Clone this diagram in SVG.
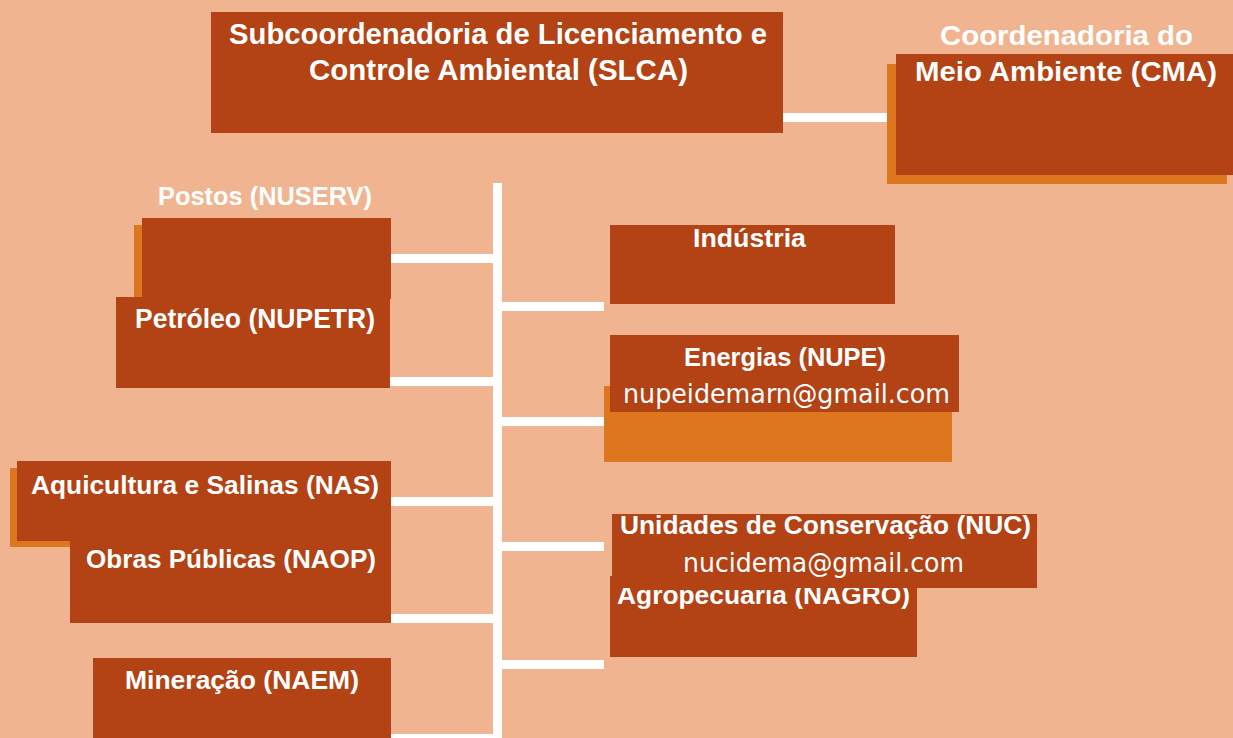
<svg xmlns="http://www.w3.org/2000/svg" width="1233" height="738" viewBox="0 0 1233 738">
<defs>
<style>
.bg{fill:#F0B590}
.box{fill:#B34214}
.sh{fill:#DC771E}
.conn{stroke:#FFFFFF;stroke-width:9;fill:none}
.t{font-family:"Liberation Sans",Arial,sans-serif;font-weight:bold;fill:#FFFFFF;text-anchor:middle}
.m{font-family:"DejaVu Sans","Verdana",sans-serif;fill:#FFFFFF;text-anchor:middle}
</style>
</defs>
<rect class="bg" x="0" y="0" width="1233" height="738"/>
<g id="connectors">
<path class="conn" d="M497.5 183V738"/>
<path class="conn" d="M783 117.5H888"/>
<path class="conn" d="M390 258.5H494"/>
<path class="conn" d="M389 381.5H494"/>
<path class="conn" d="M390 501.5H494"/>
<path class="conn" d="M390 618.5H494"/>
<path class="conn" d="M390 738.5H494"/>
<path class="conn" d="M501 306.5H604"/>
<path class="conn" d="M501 421.5H604"/>
<path class="conn" d="M501 546.5H604"/>
<path class="conn" d="M501 664.5H604"/>
</g>
<g id="slca">
<rect class="box" x="211" y="12" width="572" height="121"/>
<text class="t" font-size="29" x="498" y="44" textLength="538" lengthAdjust="spacingAndGlyphs">Subcoordenadoria de Licenciamento e</text>
<text class="t" font-size="29" x="498.5" y="80" textLength="379" lengthAdjust="spacingAndGlyphs">Controle Ambiental (SLCA)</text>
</g>
<g id="cma">
<rect class="sh" x="887" y="64" width="340" height="120"/>
<rect class="box" x="896" y="54" width="337" height="121"/>
<text class="t" font-size="28" x="1066.5" y="45" textLength="253" lengthAdjust="spacingAndGlyphs">Coordenadoria do</text>
<text class="t" font-size="28" x="1066" y="81" textLength="302" lengthAdjust="spacingAndGlyphs">Meio Ambiente (CMA)</text>
</g>
<g id="nuserv">
<rect class="sh" x="134" y="225" width="250" height="80"/>
<rect class="box" x="142" y="218" width="249" height="81"/>
<text class="t" font-size="26" x="265" y="205" textLength="214" lengthAdjust="spacingAndGlyphs">Postos (NUSERV)</text>
</g>
<g id="nupetr">
<rect class="box" x="116" y="297" width="274" height="91"/>
<text class="t" font-size="27" x="255" y="328" textLength="240" lengthAdjust="spacingAndGlyphs">Petróleo (NUPETR)</text>
</g>
<g id="industria">
<rect class="box" x="610" y="225" width="285" height="79"/>
<text class="t" font-size="26" x="749.5" y="247" textLength="113" lengthAdjust="spacingAndGlyphs">Indústria</text>
</g>
<g id="nupe">
<rect class="sh" x="604" y="386" width="348" height="76"/>
<rect class="box" x="610" y="335" width="349" height="77"/>
<text class="t" font-size="25" x="785" y="366" textLength="202" lengthAdjust="spacingAndGlyphs">Energias (NUPE)</text>
<text class="m" font-size="27" x="786.5" y="403" textLength="327" lengthAdjust="spacingAndGlyphs">nupeidemarn@gmail.com</text>
</g>
<g id="nas">
<rect class="sh" x="10" y="468" width="374" height="79"/>
<rect class="box" x="17" y="461" width="374" height="80"/>
<text class="t" font-size="26" x="205" y="494" textLength="348" lengthAdjust="spacingAndGlyphs">Aquicultura e Salinas (NAS)</text>
</g>
<g id="naop">
<rect class="box" x="70" y="541" width="321" height="82"/>
<text class="t" font-size="26" x="231" y="568" textLength="290" lengthAdjust="spacingAndGlyphs">Obras Públicas (NAOP)</text>
</g>
<g id="naem">
<rect class="box" x="93" y="658" width="298" height="80"/>
<text class="t" font-size="26" x="242" y="689" textLength="234" lengthAdjust="spacingAndGlyphs">Mineração (NAEM)</text>
</g>
<g id="nagro">
<rect class="box" x="610" y="576" width="307" height="81"/>
<text class="t" font-size="26" x="763.5" y="604" textLength="293" lengthAdjust="spacingAndGlyphs">Agropecuaria (NAGRO)</text>
</g>
<g id="nuc">
<rect class="box" x="612" y="514" width="425" height="74"/>
<text class="t" font-size="26" x="825.5" y="534" textLength="411" lengthAdjust="spacingAndGlyphs">Unidades de Conservação (NUC)</text>
<text class="m" font-size="27" x="823.5" y="572" textLength="281" lengthAdjust="spacingAndGlyphs">nucidema@gmail.com</text>
</g>
</svg>
